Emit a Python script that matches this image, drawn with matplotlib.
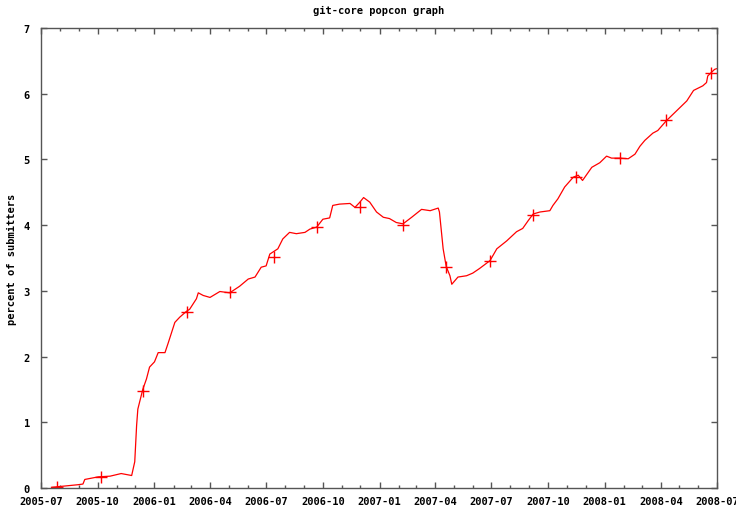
#!/usr/bin/env python3
# git-core popcon graph, redrawn from the old gnuplot png

import numpy as np
import matplotlib
matplotlib.use("Agg")
import matplotlib.pyplot as plt
import matplotlib.dates as mdates

# percent of submitters
dates = [
    "2005-07-18", "2005-08-30", "2005-09-07", "2005-09-10", "2005-10-02",
    "2005-10-21", "2005-11-08", "2005-11-25", "2005-11-30", "2005-12-03",
    "2005-12-05", "2005-12-13", "2005-12-19", "2005-12-24", "2006-01-01",
    "2006-01-07", "2006-01-18", "2006-01-23", "2006-02-03", "2006-02-11",
    "2006-02-22", "2006-02-27", "2006-03-10", "2006-03-13", "2006-03-21",
    "2006-04-01", "2006-04-17", "2006-05-03", "2006-05-19", "2006-06-02",
    "2006-06-13", "2006-06-23", "2006-07-01", "2006-07-07", "2006-07-20",
    "2006-07-28", "2006-08-08", "2006-08-19", "2006-09-02", "2006-09-10",
    "2006-09-21", "2006-10-01", "2006-10-12", "2006-10-17", "2006-10-28",
    "2006-11-14", "2006-11-22", "2006-11-30", "2006-12-06", "2006-12-16",
    "2006-12-27", "2007-01-07", "2007-01-17", "2007-01-28", "2007-02-08",
    "2007-02-22", "2007-03-10", "2007-03-24", "2007-04-06", "2007-04-08",
    "2007-04-14", "2007-04-19", "2007-04-25", "2007-04-28", "2007-05-08",
    "2007-05-22", "2007-06-01", "2007-06-12", "2007-06-29", "2007-07-10",
    "2007-07-26", "2007-08-11", "2007-08-21", "2007-08-30", "2007-09-07",
    "2007-09-18", "2007-10-04", "2007-10-09", "2007-10-17", "2007-10-28",
    "2007-11-11", "2007-11-19", "2007-11-26", "2007-12-11", "2007-12-24",
    "2008-01-04", "2008-01-12", "2008-01-25", "2008-02-08", "2008-02-19",
    "2008-02-27", "2008-03-06", "2008-03-19", "2008-03-27", "2008-04-10",
    "2008-04-21", "2008-05-13", "2008-05-24", "2008-06-08", "2008-06-14",
    "2008-06-16", "2008-06-27", "2008-06-30",
]
percent = [
    0.01, 0.05, 0.06, 0.13, 0.17,
    0.18, 0.22, 0.19, 0.40, 0.95,
    1.20, 1.50, 1.66, 1.84, 1.92,
    2.06, 2.06, 2.20, 2.52, 2.60,
    2.69, 2.72, 2.88, 2.97, 2.93,
    2.90, 2.99, 2.97, 3.07, 3.18,
    3.21, 3.36, 3.38, 3.56, 3.64,
    3.79, 3.89, 3.87, 3.89, 3.94,
    3.97, 4.09, 4.11, 4.30, 4.32,
    4.33, 4.27, 4.35, 4.42, 4.35,
    4.20, 4.12, 4.10, 4.04, 4.02,
    4.12, 4.24, 4.22, 4.26, 4.20,
    3.64, 3.37, 3.23, 3.10, 3.21,
    3.23, 3.27, 3.34, 3.46, 3.64,
    3.76, 3.90, 3.95, 4.07, 4.17,
    4.20, 4.22, 4.30, 4.40, 4.58,
    4.73, 4.76, 4.68, 4.88, 4.95,
    5.05, 5.02, 5.02, 5.01, 5.08,
    5.20, 5.29, 5.40, 5.44, 5.59,
    5.69, 5.89, 6.05, 6.12, 6.17,
    6.27, 6.37, 6.38,
]

# the sparse "+" points gnuplot put on the line
mark_dates = [
    "2005-07-27", "2005-10-06", "2005-12-13", "2006-02-22", "2006-05-03",
    "2006-07-13", "2006-09-21", "2006-11-30", "2007-02-08", "2007-04-19",
    "2007-06-29", "2007-09-06", "2007-11-15", "2008-01-25", "2008-04-10",
    "2008-06-21",
]
mark_percent = [
    0.01, 0.17, 1.48, 2.68, 2.98,
    3.52, 3.97, 4.27, 4.00, 3.36,
    3.45, 4.16, 4.73, 5.02, 5.60,
    6.31,
]

x = np.array(dates, dtype="datetime64[D]")
xm = np.array(mark_dates, dtype="datetime64[D]")

FONT = dict(family="DejaVu Sans Mono", fontweight="bold", fontsize=7.5)
BORDER = "#555555"

fig = plt.figure(figsize=(7.36, 5.06), dpi=100)
ax = fig.add_axes([41 / 736, 1 - 489 / 506, 676 / 736, 460 / 506])

ax.plot(x, percent, color="#ff0000", linewidth=0.9)
ax.plot(xm, mark_percent, linestyle="none", marker="+", markersize=9,
        markeredgewidth=1.0, color="#ff0000")

ax.set_xlim(np.datetime64("2005-07-01"), np.datetime64("2008-07-01"))
ax.set_ylim(0, 7)
ax.set_yticks(range(0, 8))

ax.xaxis.set_major_locator(mdates.MonthLocator(bymonth=[1, 4, 7, 10]))
ax.xaxis.set_minor_locator(mdates.MonthLocator())
ax.xaxis.set_major_formatter(mdates.DateFormatter("%Y-%m"))

ax.tick_params(which="both", direction="in", top=True, right=True,
               color=BORDER, width=1)
ax.tick_params(which="major", length=4)
ax.tick_params(which="minor", length=2.5)
ax.tick_params(axis="x", pad=6)
ax.tick_params(axis="y", pad=8)

for lab in ax.get_xticklabels() + ax.get_yticklabels():
    lab.set_fontfamily(FONT["family"])
    lab.set_fontweight(FONT["fontweight"])
    lab.set_fontsize(FONT["fontsize"])

for sp in ax.spines.values():
    sp.set_color(BORDER)
    sp.set_linewidth(1)

fig.text(379 / 736, 1 - 11 / 506, "git-core popcon graph",
         ha="center", va="center", **FONT)
fig.text(12 / 736, 1 - 259 / 506, "percent of submitters",
         ha="center", va="center", rotation=90, **FONT)

fig.savefig("out.png", dpi=100)
